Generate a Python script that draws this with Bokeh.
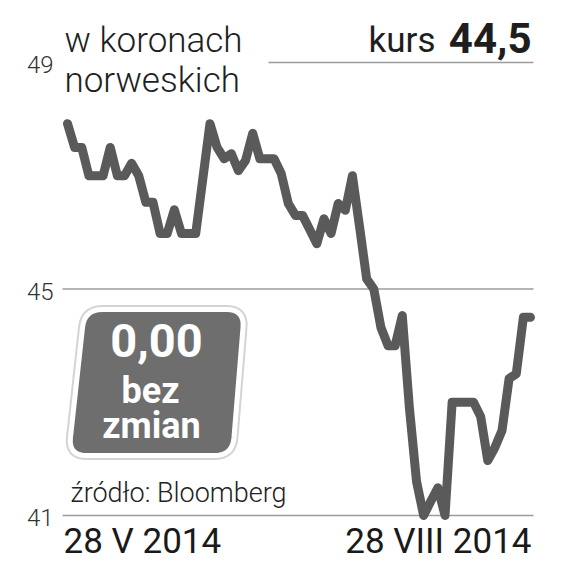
from bokeh.plotting import figure
from bokeh.models import Range1d
from bokeh.core.properties import value
from bokeh.embed import file_html
from bokeh.resources import INLINE

# ---- data (NOK rate, daily, 28 V 2014 -> 28 VIII 2014) ----
rate = [47.92, 47.50, 47.50, 47.00, 47.00, 47.00, 47.50, 47.00, 47.00, 47.22,
        47.00, 46.53, 46.53, 45.98, 45.98, 46.40, 45.98, 45.98, 45.98, 46.95,
        47.92, 47.50, 47.30, 47.39, 47.09, 47.27, 47.75, 47.30, 47.30, 47.30,
        47.04, 46.51, 46.30, 46.30, 46.05, 45.80, 46.24, 45.98, 46.51, 46.39,
        47.00, 46.10, 45.18, 45.00, 44.32, 44.00, 44.00, 44.53, 42.90, 41.60,
        41.00, 41.25, 41.49, 41.00, 43.00, 43.00, 43.00, 43.00, 42.75, 41.97,
        42.20, 42.50, 43.42, 43.50, 44.50, 44.50]
day = list(range(len(rate)))
y_ticks = [49, 45, 41]
y_tick_labels = ["49", "45", "41"]
date_labels = ["28 V 2014", "28 VIII 2014"]
unit_text = ["w koronach", "norweskich"]
price_label = "kurs"
price_value = "44,5"
change_text = ["0,00", "bez", "zmian"]
source_text = "źródło: Bloomberg"

# ---- layout mapping (page pixels -> data) ----
W = 560
H = 566
OFF = 0
px0, px1 = 67, 530        # page x of first / last day
py_top, py_bot = 62, 515  # page y of 49 / 41
sx = (px1 - px0) / (len(rate) - 1)
sy = (py_bot - py_top) / (49 - 41)
x_start = 0 - (px0 - OFF) / sx
x_end = x_start + W / sx
y_end = 49 + (py_top - OFF) / sy
y_start = y_end - H / sy


def X(page_x):
    return x_start + (page_x - OFF) / sx


def Y(page_y):
    return y_end - (page_y - OFF) / sy


def YB(baseline, size):
    # vertical middle of a text whose baseline sits at page y `baseline`
    return Y(baseline - 0.35 * size)


p = figure(width=W, height=H, output_backend="svg", toolbar_location=None,
           x_range=Range1d(x_start, x_end), y_range=Range1d(y_start, y_end),
           min_border=0, outline_line_color=None)
p.xaxis.visible = False
p.yaxis.visible = False
p.grid.visible = False
p.background_fill_color = "white"
p.border_fill_color = "white"

# gridlines
grid_x0 = [X(268) if t == 49 else X(62) for t in y_ticks]
grid_x1 = [X(533) for t in y_ticks]
p.segment(x0=grid_x0, y0=y_ticks, x1=grid_x1, y1=y_ticks,
          line_color="#9c9c9c", line_width=1.6)

LIGHT = value("Roboto Light")
REG = value("Roboto")

# tick labels
p.text(x=[X(53)] * 3, y=y_ticks, text=y_tick_labels, text_font=LIGHT,
       text_font_size="24px", text_align="right", text_baseline="middle",
       text_color="#333333", y_offset=2)

# the line
p.line(day, rate, line_color="#5a5a5a", line_width=9, line_join="round",
       line_cap="round")

# header texts
p.text(x=[X(64), X(64)], y=[YB(52, 35), YB(92, 35)], text=unit_text,
       text_font=LIGHT, text_font_size="35px", text_baseline="middle",
       text_align="left", text_color="#1e1e1e")
p.text(x=[X(435)], y=[YB(52, 35)], text=[price_label], text_font=REG,
       text_font_size="35px", text_baseline="middle", text_align="right",
       text_color="#1e1e1e")
p.text(x=[X(531)], y=[YB(52, 42)], text=[price_value], text_font=REG,
       text_font_style="bold", text_font_size="42px",
       text_baseline="middle", text_align="right", text_color="#1e1e1e")


# rounded slanted box
def rounded(corners, r, n=8):
    pts = []
    m = len(corners)
    for i in range(m):
        cx, cy = corners[i]
        ax, ay = corners[i - 1]
        bx, by = corners[(i + 1) % m]
        da = ((ax - cx) ** 2 + (ay - cy) ** 2) ** 0.5
        db = ((bx - cx) ** 2 + (by - cy) ** 2) ** 0.5
        s = (cx + (ax - cx) * r / da, cy + (ay - cy) * r / da)
        e = (cx + (bx - cx) * r / db, cy + (by - cy) * r / db)
        for k in range(n + 1):
            t = k / n
            qx = (1 - t) ** 2 * s[0] + 2 * (1 - t) * t * cx + t * t * e[0]
            qy = (1 - t) ** 2 * s[1] + 2 * (1 - t) * t * cy + t * t * e[1]
            pts.append((qx, qy))
    return pts


box = rounded([(84, 309), (244, 309), (232, 455), (68, 455)], 18)
bx = [X(a) for a, b in box]
by = [Y(b) for a, b in box]
p.patch(bx, by, fill_color=None, line_color="#d4d4d4", line_width=9,
        line_join="round")
p.patch(bx, by, fill_color="#6e6e6e", line_color="white", line_width=5,
        line_join="round")

p.text(x=[X(156)], y=[YB(356, 47)], text=[change_text[0]], text_font=REG,
       text_font_style="bold", text_font_size="47px", text_align="center",
       text_baseline="middle", text_color="white")
p.text(x=[X(150), X(151)], y=[YB(403, 36), YB(438, 36)], text=change_text[1:],
       text_font=REG, text_font_style="bold", text_font_size="36px",
       text_align="center", text_baseline="middle", text_color="white")

# source
p.text(x=[X(70)], y=[YB(502, 27)], text=[source_text], text_font=LIGHT,
       text_font_size="27px", text_align="left", text_baseline="middle",
       text_color="#222222")

# date labels
p.text(x=[X(63), X(531)], y=[YB(553, 35), YB(553, 35)], text=date_labels,
       text_font=REG, text_font_size="35px", text_align=["left", "right"],
       text_baseline="middle", text_color="#1a1a1a")

open("out.html", "w").write(file_html(p, INLINE))
